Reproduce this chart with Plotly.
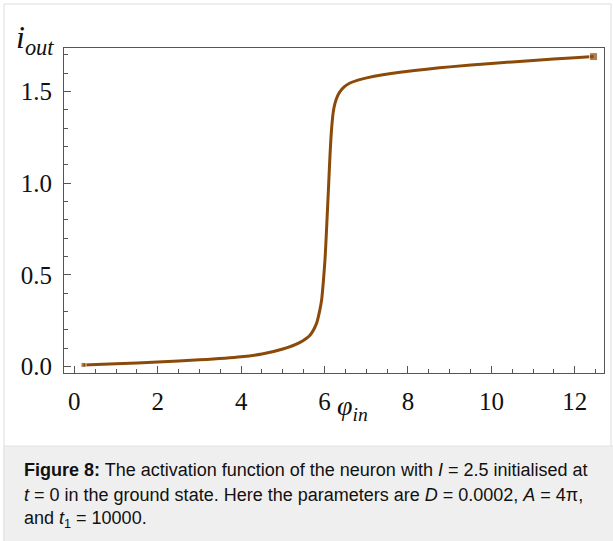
import plotly.graph_objects as go

# Data
phi_in = [0.22, 1.0, 2.0, 3.0, 4.0, 4.5, 5.0, 5.4, 5.65, 5.81, 5.88, 5.93, 5.97,
          6.01, 6.04, 6.07, 6.10, 6.13, 6.17, 6.21, 6.25, 6.31, 6.37, 6.47, 6.61,
          6.80, 7.01, 7.40, 7.81, 8.5, 9.0, 10.0, 11.0, 12.0, 12.45]
i_out = [0.008, 0.014, 0.024, 0.036, 0.053, 0.068, 0.095, 0.13, 0.17, 0.236, 0.30,
         0.363, 0.46, 0.58, 0.71, 0.854, 1.00, 1.15, 1.30, 1.39, 1.435, 1.475,
         1.499, 1.525, 1.546, 1.562, 1.574, 1.591, 1.605, 1.623, 1.634, 1.653,
         1.669, 1.684, 1.690]
x_ticks = [0, 2, 4, 6, 8, 10, 12]
y_ticks = [0.0, 0.5, 1.0, 1.5]
y_ticklabels = ["0.0", "0.5", "1.0", "1.5"]

COLOR = "#8b4a0a"
W, H = 613, 541
L, R, T, B = 64, 9, 48, 168
PW, PH = W - L - R, H - T - B

def px(x):
    return (x - L) / PW

def py(y):
    return (H - B - y) / PH

fig = go.Figure()
fig.add_trace(go.Scatter(x=phi_in, y=i_out, mode="lines",
                         line=dict(color=COLOR, width=3, shape="spline", smoothing=0.6),
                         hoverinfo="skip", showlegend=False))
fig.add_trace(go.Scatter(x=[phi_in[0], phi_in[-1]], y=[i_out[0], i_out[-1]], mode="markers",
                         marker=dict(symbol="square", color=COLOR, size=[5, 8]),
                         hoverinfo="skip", showlegend=False))

axis_common = dict(showgrid=False, zeroline=False, showline=True, linecolor="#555555",
                   linewidth=1, mirror=True, ticks="inside", tickcolor="#555555",
                   ticklen=7, tickwidth=1,
                   tickfont=dict(family="Liberation Serif", size=25, color="#111111"))

fig.update_xaxes(range=[-0.247, 12.70], tickvals=x_ticks, ticktext=[str(v) for v in x_ticks],
                 minor=dict(dtick=0.5, tick0=0, ticks="inside", ticklen=4, tickcolor="#555555"),
                 ticklabelstandoff=6, **axis_common)
fig.update_yaxes(range=[-0.036, 1.737], tickvals=y_ticks, ticktext=y_ticklabels,
                 minor=dict(dtick=0.1, tick0=0, ticks="inside", ticklen=4, tickcolor="#555555"),
                 ticklabelstandoff=6, **axis_common)

# outer border
fig.add_shape(type="rect", xref="paper", yref="paper", x0=px(4), x1=px(611), y0=py(545), y1=py(4),
              line=dict(color="#dcdcdc", width=1), fillcolor="rgba(0,0,0,0)", layer="below")
# caption box
fig.add_shape(type="rect", xref="paper", yref="paper", x0=px(4), x1=px(616), y0=py(545), y1=py(446),
              line=dict(color="#e2e2e2", width=1), fillcolor="#efefef", layer="below")

annotations = [
    dict(text="<i>i</i><sub><i>out</i></sub>", x=px(14), y=py(40), xanchor="left", yanchor="middle",
         font=dict(family="Liberation Serif", size=32, color="#111111")),
    dict(text="<i>φ</i><sub><i>in</i></sub>", x=px(335), y=py(407), xanchor="left", yanchor="middle",
         font=dict(family="Liberation Serif", size=28, color="#111111")),
    dict(text="<b>Figure 8:</b> The activation function of the neuron with <i>I</i> = 2.5 initialised at",
         x=px(22), y=py(470), xanchor="left", yanchor="middle",
         font=dict(family="Liberation Sans", size=18, color="#111111")),
    dict(text="<i>t</i> = 0 in the ground state. Here the parameters are <i>D</i> = 0.0002, <i>A</i> = 4π,",
         x=px(22), y=py(495), xanchor="left", yanchor="middle",
         font=dict(family="Liberation Sans", size=18, color="#111111")),
    dict(text="and <i>t</i><sub>1</sub> = 10000.",
         x=px(22), y=py(519), xanchor="left", yanchor="middle",
         font=dict(family="Liberation Sans", size=18, color="#111111")),
]
for a in annotations:
    a.update(xref="paper", yref="paper", showarrow=False)
    fig.add_annotation(**a)

fig.update_layout(width=W, height=H, margin=dict(l=L, r=R, t=T, b=B),
                  paper_bgcolor="white", plot_bgcolor="white")

fig.write_html("out.html")
